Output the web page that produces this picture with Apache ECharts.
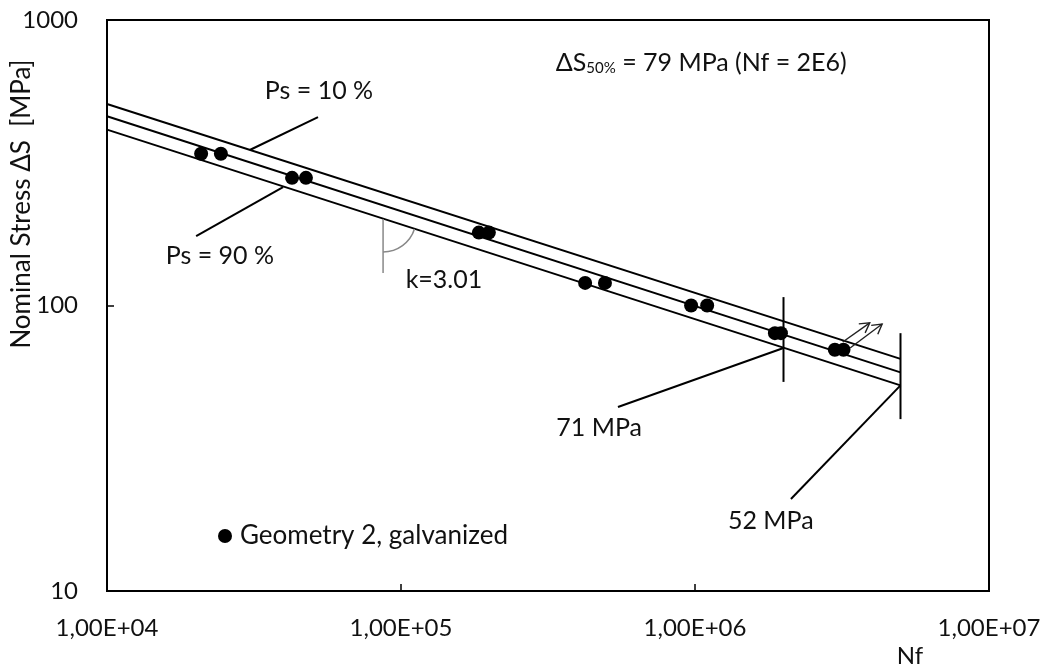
<!DOCTYPE html>
<html><head><meta charset="utf-8">
<script src="https://cdn.jsdelivr.net/npm/echarts@6/dist/echarts.min.js"></script>
<style>html,body{margin:0;padding:0;background:#fff}#c{width:1051px;height:670px}</style>
</head><body><div id="c"></div>
<script>
// ---- data ----
const seriesName = 'Geometry 2, galvanized';
const pointN = [2.09e4, 2.44e4, 4.26e4, 4.75e4, 1.84e5, 1.99e5, 4.23e5, 4.94e5, 9.7e5, 1.1e6, 1.87e6, 1.96e6, 2.99e6, 3.2e6];
const pointS = [340, 340, 280, 280, 180, 180, 120, 120, 100, 100, 80, 80, 70, 70];
const lineN = [1e4, 5e6];
const upperS = [508, 65];     // Ps = 10 %
const meanS = [460, 58.3];    // Ps = 50 %
const lowerS = [413, 52.5];   // Ps = 90 %
const limitN = [2e6, 5e6];
const limitTopS = [107, 80];
const limitBottomS = [54, 40];
const xTickLabels = {4: '1,00E+04', 5: '1,00E+05', 6: '1,00E+06', 7: '1,00E+07'};
const yTickLabels = {1: '10', 2: '100', 3: '1000'};
// annotation anchors in data coordinates [N, S]
const leaderPs10 = [[3.06e4, 350.5], [5.22e4, 457]];
const leaderPs90 = [[3.97e4, 260], [2.01e4, 175]];
const leader71 = [[2e6, 71], [5.47e5, 44.1]];
const leader52 = [[5e6, 52.5], [2.12e6, 21.0]];
const runoutArrows = [[[3.18e6, 74.5], [3.93e6, 86.9]], [[3.37e6, 71], [4.33e6, 86.1]]];
const angleLine = [[8.69e4, 201], [8.69e4, 130]];
const labels = [
  {text: 'Ps = 10 %', at: [5.26e4, 564]},
  {text: 'Ps = 90 %', at: [2.42e4, 149]},
  {text: 'k=3.01', at: [1.4e5, 122.8]},
  {text: '71 MPa', at: [4.72e5, 37.2]},
  {text: '52 MPa', at: [1.81e6, 17.6]}
];
const meanLabelAt = [1.05e6, 713];

const FONT = 'Lato';
const chart = echarts.init(document.getElementById('c'));
const blackLine = (name, xs, ys) => ({
  type: 'line', name: name, data: xs.map((x, i) => [x, ys[i]]), showSymbol: false, symbol: 'none',
  lineStyle: {color: '#000', width: 2}, silent: true, z: 2, legendHoverLink: false
});
const series = [
  blackLine('Ps10', lineN, upperS),
  blackLine('Ps50', lineN, meanS),
  blackLine('Ps90', lineN, lowerS),
  blackLine('lim1', [limitN[0], limitN[0]], [limitTopS[0], limitBottomS[0]]),
  blackLine('lim2', [limitN[1], limitN[1]], [limitTopS[1], limitBottomS[1]]),
  {
    type: 'scatter', name: seriesName, data: pointN.map((x, i) => [x, pointS[i]]),
    symbol: 'circle', symbolSize: 14, itemStyle: {color: '#000', opacity: 1}, z: 5
  }
];
chart.setOption({
  animation: false,
  backgroundColor: '#fff',
  grid: {left: 107, right: 62, top: 20, bottom: 79, show: true, borderColor: '#000', borderWidth: 2, backgroundColor: 'transparent'},
  legend: {
    data: [{name: seriesName, icon: 'circle', itemStyle: {color: '#000', opacity: 1}}], left: 213, top: 518, itemWidth: 14, itemHeight: 14,
    textStyle: {fontFamily: FONT, fontSize: 26, color: '#111', padding: [0, 0, 0, 3]}
  },
  xAxis: {
    type: 'log', logBase: 10, min: 1e4, max: 1e7,
    axisLine: {show: true, lineStyle: {color: '#000', width: 2}},
    axisTick: {show: true, inside: true, length: 7, lineStyle: {color: '#000', width: 1.5}},
    minorTick: {show: false}, splitLine: {show: false},
    axisLabel: {
      margin: 25, fontFamily: FONT, fontSize: 24, color: '#111', showMinLabel: true, showMaxLabel: true,
      formatter: v => xTickLabels[Math.round(Math.log10(v))] || ''
    }
  },
  yAxis: {
    type: 'log', logBase: 10, min: 10, max: 1000,
    axisLine: {show: true, lineStyle: {color: '#000', width: 2}},
    axisTick: {show: true, inside: true, length: 7, lineStyle: {color: '#000', width: 1.5}},
    minorTick: {show: false}, splitLine: {show: false},
    axisLabel: {
      margin: 29, fontFamily: FONT, fontSize: 24, color: '#111',
      formatter: v => yTickLabels[Math.round(Math.log10(v))] || ''
    }
  },
  series: series
});

function px(p) { return chart.convertToPixel({gridIndex: 0}, p); }
function lineEl(a, b, color, width) {
  const p = px(a), q = px(b);
  return {type: 'line', shape: {x1: p[0], y1: p[1], x2: q[0], y2: q[1]}, style: {stroke: color, lineWidth: width}, silent: true, z: 10};
}
const g = [];
[leaderPs10, leaderPs90, leader71, leader52].forEach(l => g.push(lineEl(l[0], l[1], '#000', 2)));
runoutArrows.forEach(a => {
  const p = px(a[0]), q = px(a[1]);
  g.push({type: 'line', shape: {x1: p[0], y1: p[1], x2: q[0], y2: q[1]}, style: {stroke: '#222', lineWidth: 1.4}, silent: true, z: 10});
  const dx = q[0] - p[0], dy = q[1] - p[1], L = Math.hypot(dx, dy), ux = dx / L, uy = dy / L;
  const h = 11, ang = Math.PI / 6;
  const rot = (x, y, t) => [x * Math.cos(t) - y * Math.sin(t), x * Math.sin(t) + y * Math.cos(t)];
  const r1 = rot(-ux, -uy, ang), r2 = rot(-ux, -uy, -ang);
  g.push({type: 'polyline', shape: {points: [[q[0] + r1[0] * h, q[1] + r1[1] * h], q, [q[0] + r2[0] * h, q[1] + r2[1] * h]]}, style: {stroke: '#222', lineWidth: 1.4, fill: null}, silent: true, z: 10});
});
g.push(lineEl(angleLine[0], angleLine[1], '#888', 1.5));
(function () {
  const c = px(angleLine[0]);
  const a = px([lineN[0], lowerS[0]]), b = px([lineN[1], lowerS[1]]);
  const slope = Math.atan2(b[1] - a[1], b[0] - a[0]);
  g.push({type: 'arc', shape: {cx: c[0], cy: c[1], r: 33, startAngle: slope, endAngle: Math.PI / 2, clockwise: true}, style: {stroke: '#888', lineWidth: 1.5, fill: null}, silent: true, z: 10});
})();
labels.forEach(l => {
  const p = px(l.at);
  g.push({type: 'text', x: p[0], y: p[1], style: {text: l.text, font: '25px ' + FONT, fill: '#111', align: 'center', verticalAlign: 'middle'}, silent: true, z: 11});
});
(function () {
  const p = px(meanLabelAt);
  g.push({type: 'text', x: p[0], y: p[1], style: {
    text: '{n|ΔS}{s|50%}{n| = 79 MPa (Nf = 2E6)}', align: 'center', verticalAlign: 'middle',
    rich: {n: {font: '25px ' + FONT, fill: '#111', verticalAlign: 'bottom'}, s: {font: '15px ' + FONT, fill: '#111', padding: [12, 0, 0, 0], verticalAlign: 'bottom'}}
  }, silent: true, z: 11});
})();
g.push({type: 'text', x: 22, y: 204, rotation: Math.PI / 2, style: {text: 'Nominal Stress ΔS  [MPa]', font: '26px ' + FONT, fill: '#111', align: 'center', verticalAlign: 'middle'}, silent: true});
g.push({type: 'text', x: 910, y: 656, style: {text: 'Nf', font: '24px ' + FONT, fill: '#111', align: 'center', verticalAlign: 'middle'}, silent: true});
chart.setOption({graphic: {elements: g}});
</script></body></html>
